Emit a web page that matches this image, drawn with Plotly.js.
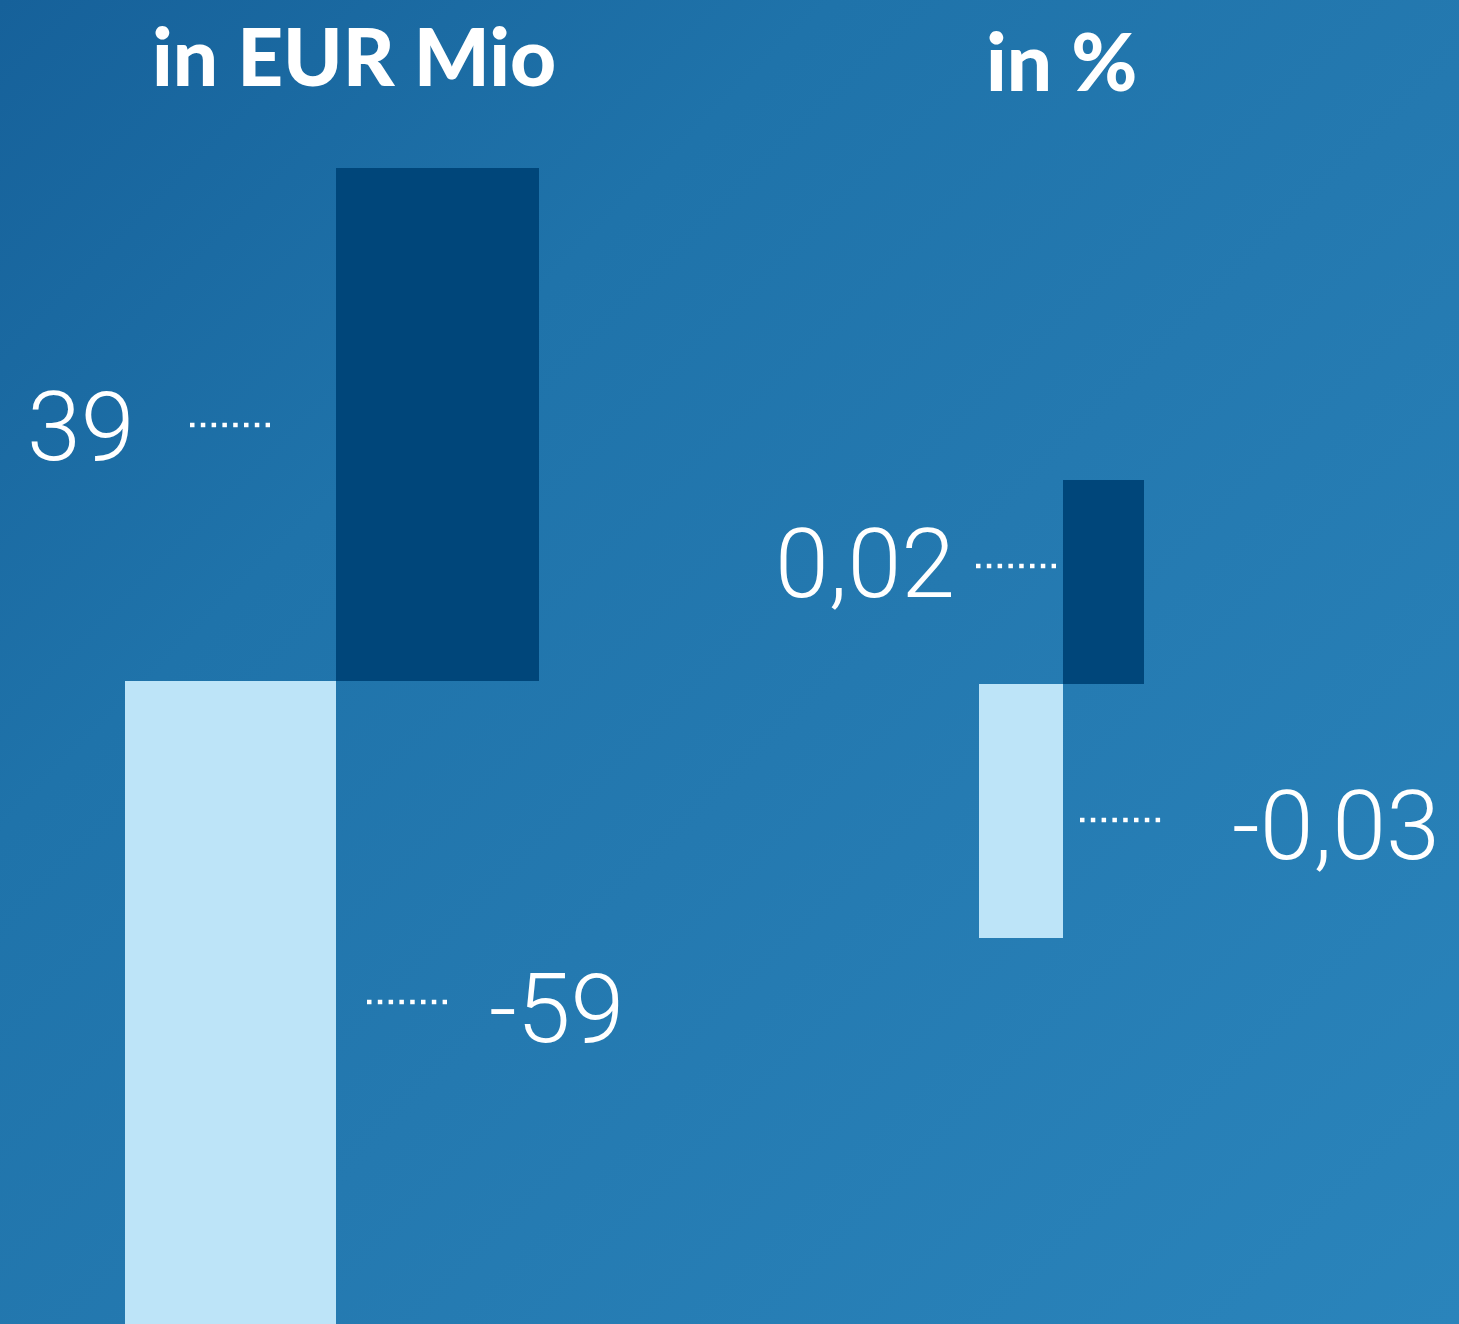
<!DOCTYPE html>
<html>
<head>
<meta charset="utf-8">
<script src="https://cdn.plot.ly/plotly-3.0.1.min.js"></script>
<style>
  html, body { margin: 0; padding: 0; overflow: hidden; }
  body {
    width: 1459px; height: 1324px;
    background: linear-gradient(135deg, #16619a 0%, #1f73aa 30%, #2479b0 55%, #2a84bb 100%);
  }
  #chart { width: 1459px; height: 1324px; }
</style>
</head>
<body>
<div id="chart"></div>
<script>
// ---- data ----
const barSlots = [0, 1];
const eurValues = [-59, 39];
const eurLabels = ['-59', '39'];
const pctValues = [-0.025, 0.02];
const pctLabels = ['-0,03', '0,02'];
const panelTitles = ['in EUR Mio', 'in %'];

// ---- styles ----
const W = 1459, H = 1324;
const lightColor = '#bde4f8';
const darkColor = '#00467a';
const labelFont = { family: 'Roboto, "Open Sans", sans-serif', size: 97, color: '#ffffff', weight: 300 };
const titleFont = { family: 'Lato, "Open Sans", sans-serif', size: 80, color: '#ffffff', weight: 900 };
const barWidths = [1.018, 0.982];
const barOffsets = [-0.518, -0.5];

function px(x) { return x / W; }
function py(y) { return 1 - y / H; }

const traces = [
  {
    type: 'bar', x: barSlots, y: eurValues, width: barWidths, offset: barOffsets,
    marker: { color: [lightColor, darkColor], line: { width: 0 } },
    xaxis: 'x', yaxis: 'y', hoverinfo: 'skip'
  },
  {
    type: 'bar', x: barSlots, y: pctValues, width: barWidths, offset: barOffsets,
    marker: { color: [lightColor, darkColor], line: { width: 0 } },
    xaxis: 'x2', yaxis: 'y2', hoverinfo: 'skip'
  }
];

const hiddenAxis = { visible: false, showgrid: false, zeroline: false, fixedrange: true };

// leader dots (pixel positions of the layout)
const leaders = [
  [190, 270, 425],
  [367, 447, 1002],
  [976, 1056, 566],
  [1080, 1161, 820]
];
const shapes = leaders.map(l => ({
  type: 'line', xref: 'paper', yref: 'paper',
  x0: px(l[0]), x1: px(l[1]), y0: py(l[2]), y1: py(l[2]),
  line: { color: '#ffffff', width: 4.5, dash: '4.5px,6.3px' }
}));

// value labels and titles
const labelPos = [
  { text: eurLabels[1], x: 81, y: 427 },
  { text: eurLabels[0], x: 556, y: 1009 },
  { text: pctLabels[1], x: 865, y: 564 },
  { text: pctLabels[0], x: 1336, y: 826 }
];
const annotations = labelPos.map(a => ({
  xref: 'paper', yref: 'paper', x: px(a.x), y: py(a.y),
  xanchor: 'center', yanchor: 'middle', showarrow: false,
  text: a.text, font: labelFont
})).concat([
  { xref: 'paper', yref: 'paper', x: px(354), y: py(55), xanchor: 'center', yanchor: 'middle',
    showarrow: false, text: panelTitles[0], font: titleFont },
  { xref: 'paper', yref: 'paper', x: px(1061), y: py(60), xanchor: 'center', yanchor: 'middle',
    showarrow: false, text: panelTitles[1], font: titleFont }
]);

const layout = {
  width: W, height: H,
  margin: { l: 0, r: 0, t: 0, b: 0, pad: 0 },
  paper_bgcolor: 'rgba(0,0,0,0)',
  plot_bgcolor: 'rgba(0,0,0,0)',
  showlegend: false,
  bargap: 0,
  xaxis: Object.assign({}, hiddenAxis, { domain: [0, 1], range: [-232 / 207, (W - 232) / 207] }),
  yaxis: Object.assign({}, hiddenAxis, { domain: [0, 1], range: [-(H - 681) / (513 / 39), 681 / (513 / 39)] }),
  xaxis2: Object.assign({}, hiddenAxis, { domain: [0, 1], anchor: 'y2', range: [-1021.75 / 82.5, (W - 1021.75) / 82.5] }),
  yaxis2: Object.assign({}, hiddenAxis, { domain: [0, 1], anchor: 'x2', range: [-(H - 683.5) / 10175, 683.5 / 10175] }),
  shapes: shapes,
  annotations: annotations
};

Plotly.newPlot('chart', traces, layout, { staticPlot: true, displayModeBar: false });
</script>
</body>
</html>
